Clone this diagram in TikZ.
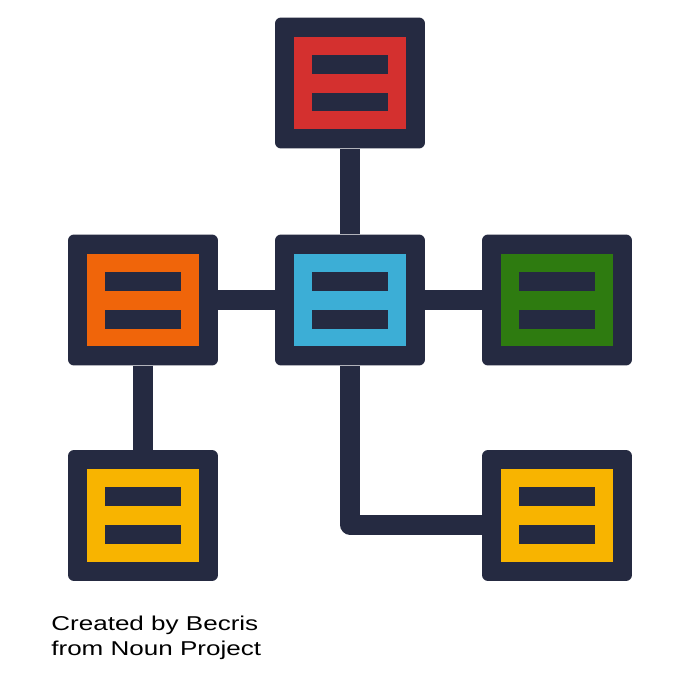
\documentclass[tikz,border=0pt]{standalone}
\usepackage{fontspec}
\setmainfont{Liberation Sans}
\newfontfamily\creditfont[FakeStretch=1.3]{Liberation Sans}
\definecolor{knavy}{RGB}{37,42,65}
\definecolor{kred}{RGB}{212,48,47}
\definecolor{korange}{RGB}{240,101,10}
\definecolor{kblue}{RGB}{60,174,214}
\definecolor{kgreen}{RGB}{46,123,16}
\definecolor{kyellow}{RGB}{248,180,0}
\tikzset{
  panel/.style={fill=knavy,rounded corners=0.12cm,minimum width=3cm,minimum height=2.62cm,inner sep=0pt,
    path picture={
      \fill[#1,sharp corners]([shift={(-1.12cm,-0.93cm)}]path picture bounding box.center) rectangle ++(2.24cm,1.86cm);
      \fill[knavy,sharp corners]([shift={(-0.76cm,0.19cm)}]path picture bounding box.center) rectangle ++(1.52cm,0.38cm);
      \fill[knavy,sharp corners]([shift={(-0.76cm,-0.57cm)}]path picture bounding box.center) rectangle ++(1.52cm,0.38cm);
    }},
  link/.style={draw=knavy,line width=0.4cm,line join=round},
}
\begin{document}
\begin{tikzpicture}[x=0.02cm,y=-0.02cm]
\fill[white](0,0)rectangle(700,700);
\useasboundingbox(0,0)rectangle(700,700);
\foreach \pn/\px/\py/\pc in {top/350/83/kred,hub/350/300/kblue,lft/143/300/korange,rgt/557/300/kgreen,lowl/143/515.5/kyellow,lowr/557/515.5/kyellow}{\node[panel=\pc](\pn)at(\px,\py){};}
\draw[link](top)--(hub);
\draw[link](lft)--(hub);
\draw[link](hub)--(rgt);
\draw[link](lft)--(lowl);
\draw[link](hub.south)|-([yshift=-0.18cm]lowr.west);
\node[anchor=north west,inner sep=0pt,align=left,font=\creditfont\fontsize{11.4pt}{14.2pt}\selectfont](credit)at(51,616){Created by Becris\\from Noun Project};
\end{tikzpicture}
\end{document}
